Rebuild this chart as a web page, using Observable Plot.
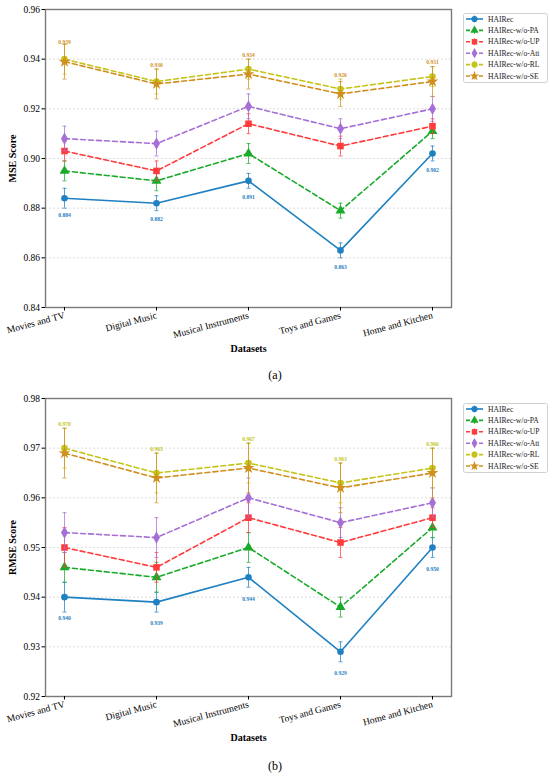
<!DOCTYPE html>
<html><head><meta charset="utf-8">
<script src="https://cdn.jsdelivr.net/npm/d3@7"></script>
<script src="https://cdn.jsdelivr.net/npm/@observablehq/plot@0.6"></script>
<style>
body{margin:0;background:#fff;font-family:"Liberation Serif","Times New Roman",serif;}
#wrap{position:relative;width:550px;height:779px;overflow:hidden;}
.panel{position:relative;width:550px;}
.cap{width:550px;text-align:center;font-size:12px;color:#000;}
.legend{position:absolute;left:463px;}
svg [aria-label="y-axis label"] text, svg [aria-label="x-axis label"] text{font-weight:bold;font-size:10px;}
</style>
</head><body>
<div id="wrap">
  <div class="panel" id="pa"></div>
  <div class="cap" style="height:24px;line-height:26px;">(a)</div>
  <div class="panel" id="pb"></div>
  <div class="cap" style="height:28px;line-height:30px;">(b)</div>
</div>
<script>
const categories = ["Movies and TV","Digital Music","Musical Instruments","Toys and Games","Home and Kitchen"];
const seriesNames = ["HAIRec","HAIRec-w/o-PA","HAIRec-w/o-UP","HAIRec-w/o-Att","HAIRec-w/o-RL","HAIRec-w/o-SE"];
const seriesColors = ["#1f80c2","#1aaa2a","#ff3b3b","#a66fd6","#c4c41a","#d08f1e"];
const seriesSymbols = ["circle","triangle","square","diamond","circle","star"];
const seriesDashed = [false,true,true,true,true,true];

// MSE (a)
const mseValues = [
  [0.884,0.882,0.891,0.863,0.902],
  [0.895,0.891,0.902,0.879,0.911],
  [0.903,0.895,0.914,0.905,0.913],
  [0.908,0.906,0.921,0.912,0.920],
  [0.940,0.931,0.936,0.928,0.933],
  [0.939,0.930,0.934,0.926,0.931]
];
const mseErrors = [
  [0.004,0.003,0.003,0.003,0.003],
  [0.004,0.004,0.004,0.003,0.003],
  [0.004,0.004,0.004,0.004,0.003],
  [0.005,0.005,0.005,0.004,0.005],
  [0.006,0.005,0.004,0.004,0.004],
  [0.007,0.006,0.006,0.005,0.006]
];
const mseTicks = [0.84,0.86,0.88,0.90,0.92,0.94,0.96];

// RMSE (b)
const rmseValues = [
  [0.940,0.939,0.944,0.929,0.950],
  [0.946,0.944,0.950,0.938,0.954],
  [0.950,0.946,0.956,0.951,0.956],
  [0.953,0.952,0.960,0.955,0.959],
  [0.970,0.965,0.967,0.963,0.966],
  [0.969,0.964,0.966,0.962,0.965]
];
const rmseErrors = [
  [0.003,0.002,0.002,0.002,0.002],
  [0.003,0.003,0.003,0.002,0.002],
  [0.004,0.003,0.003,0.003,0.002],
  [0.004,0.004,0.004,0.003,0.003],
  [0.004,0.004,0.004,0.004,0.004],
  [0.005,0.005,0.005,0.005,0.005]
];
const rmseTicks = [0.92,0.93,0.94,0.95,0.96,0.97,0.98];

const capSymbol = {draw(ctx,size){const w=Math.sqrt(size/Math.PI);ctx.moveTo(-w,0);ctx.lineTo(w,0);}};

function rowsFor(values, errors){
  const rows=[];
  values.forEach((arr,s)=>arr.forEach((v,i)=>rows.push({s, series:seriesNames[s], cat:categories[i], value:v, err:errors[s][i]})));
  return rows;
}

function panel(cfg){
  const rows = rowsFor(cfg.values, cfg.errors);
  const marks = [
    Plot.gridY(cfg.ticks, {stroke:"#c8c8c8", strokeOpacity:1, strokeDasharray:"2,2", strokeWidth:0.6}),
  ];
  seriesNames.forEach((name,s)=>{
    const d = rows.filter(r=>r.s===s);
    const c = seriesColors[s];
    marks.push(Plot.ruleX(d,{x:"cat", y1:r=>r.value-r.err, y2:r=>r.value+r.err, stroke:c, strokeWidth:1, strokeOpacity:0.75}));
    marks.push(Plot.dot(d,{x:"cat", y:r=>r.value-r.err, symbol:capSymbol, r:2, stroke:c, fill:"none", strokeWidth:1, strokeOpacity:0.75}));
    marks.push(Plot.dot(d,{x:"cat", y:r=>r.value+r.err, symbol:capSymbol, r:2, stroke:c, fill:"none", strokeWidth:1, strokeOpacity:0.75}));
    marks.push(Plot.line(d,{x:"cat", y:"value", stroke:c, strokeWidth:1.6, strokeDasharray: seriesDashed[s] ? "5,3" : null}));
    marks.push(Plot.dot(d,{x:"cat", y:"value", symbol:seriesSymbols[s], r: seriesSymbols[s]==="circle" ? 3.3 : 3.7, fill:c, stroke:"none"}));
  });
  const top = rows.filter(r=>r.s===cfg.topLabel);
  const bot = rows.filter(r=>r.s===0);
  marks.push(Plot.text(top,{x:"cat", y:"value", text:r=>d3.format(".3f")(r.value), dy:cfg.dyTop, fill:seriesColors[cfg.topLabel], fontSize:5.6, fontWeight:"bold"}));
  marks.push(Plot.text(bot,{x:"cat", y:"value", text:r=>d3.format(".3f")(r.value), dy:cfg.dyBot, fill:seriesColors[0], fontSize:5.6, fontWeight:"bold"}));
  marks.push(Plot.frame({stroke:"#7a7a7a", strokeWidth:1.4}));
  marks.push(Plot.axisY({ticks:cfg.ticks, tickFormat:d3.format(".2f"), tickSize:3.5, tickPadding:2, fontSize:9.5, label:cfg.ylabel, labelAnchor:"center", labelArrow:"none", labelOffset:37}));
  marks.push(Plot.axisX({tickRotate:-15, tickSize:3.5, tickPadding:4, fontSize:9.5, label:"Datasets", labelAnchor:"center", labelArrow:"none", labelOffset:44}));
  return Plot.plot({
    width:550, height:cfg.height,
    marginLeft:45, marginRight:99, marginTop:cfg.marginTop, marginBottom:cfg.marginBottom,
    style:{fontFamily:"'Liberation Serif','Times New Roman',serif", fontSize:"9px", color:"#000", background:"#fff"},
    x:{type:"point", domain:categories, padding:0.2},
    y:{domain:[cfg.ticks[0], cfg.ticks[cfg.ticks.length-1]]},
    marks
  });
}

function legend(top){
  const w=85,h=70;
  const svg=d3.create("svg").attr("width",w).attr("height",h).attr("class","legend").style("top",top+"px");
  svg.append("rect").attr("x",0.5).attr("y",0.5).attr("width",w-1).attr("height",h-1).attr("rx",2).attr("fill","#fff").attr("stroke","#d0d0d0");
  seriesNames.forEach((name,s)=>{
    const y=6+s*11.4, c=seriesColors[s];
    const g=svg.append("g");
    g.append("line").attr("x1",3).attr("x2",20).attr("y1",y).attr("y2",y).attr("stroke",c).attr("stroke-width",1.6).attr("stroke-dasharray",seriesDashed[s]?"4,2.5":null);
    g.append("line").attr("x1",11.5).attr("x2",11.5).attr("y1",y-3.5).attr("y2",y+3.5).attr("stroke",c).attr("stroke-width",1).attr("stroke-opacity",0.8);
    g.append("path").attr("d",d3.symbol(d3["symbol"+seriesSymbols[s][0].toUpperCase()+seriesSymbols[s].slice(1)], 30)()).attr("transform",`translate(11.5,${y})`).attr("fill",c);
    g.append("text").attr("x",25).attr("y",y).attr("dy","0.35em").attr("font-size","7.6px").attr("font-family","'Liberation Serif',serif").attr("fill","#222").text(name);
  });
  return svg.node();
}

const pa=document.getElementById("pa");
pa.append(panel({values:mseValues, errors:mseErrors, ticks:mseTicks, ylabel:"MSE Score", height:362, marginTop:9, marginBottom:55, topLabel:5, dyTop:-19, dyBot:16.5}));
pa.append(legend(13));
const pb=document.getElementById("pb");
pb.append(panel({values:rmseValues, errors:rmseErrors, ticks:rmseTicks, ylabel:"RMSE Score", height:365, marginTop:12, marginBottom:55, topLabel:4, dyTop:-23.5, dyBot:21.5}));
pb.append(legend(17));
</script>
</body></html>
